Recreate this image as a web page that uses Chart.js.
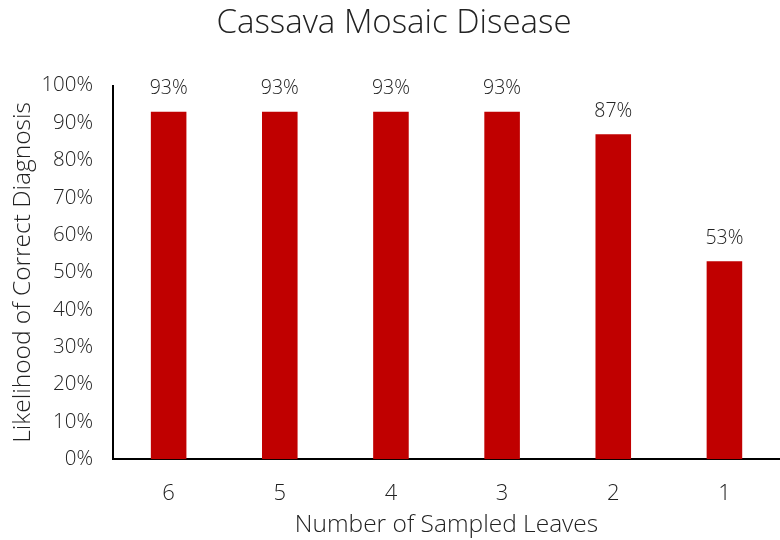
<!DOCTYPE html>
<html>
<head>
<meta charset="utf-8">
<script src="https://cdn.jsdelivr.net/npm/chart.js@4"></script>
<style>
    html, body { margin: 0; padding: 0; background: #fff; }
    #wrap { width: 780px; height: 540px; }
</style>
</head>
<body>
<div id="wrap"><canvas id="chart"></canvas></div>
<script>
// Chart data
const leaves = ['6', '5', '4', '3', '2', '1'];
const likelihood = [93, 93, 93, 93, 87, 53];
const yTicks = [0, 10, 20, 30, 40, 50, 60, 70, 80, 90, 100];

const FONT = "'Open Sans', 'Lato', sans-serif";

// Draw percentage labels above each bar
const barLabels = {
    id: 'barLabels',
    afterDatasetsDraw(chart) {
        const ctx = chart.ctx;
        const meta = chart.getDatasetMeta(0);
        ctx.save();
        ctx.font = `300 19.5px ${FONT}`;
        ctx.fillStyle = '#222';
        ctx.textAlign = 'center';
        ctx.textBaseline = 'middle';
        meta.data.forEach((bar, i) => {
            ctx.fillText(`${likelihood[i]}%`, bar.x, bar.y - 23);
        });
        ctx.restore();
    }
};

new Chart(document.getElementById('chart'), {
    type: 'bar',
    data: {
        labels: leaves,
        datasets: [{
            data: likelihood,
            backgroundColor: '#C00000',
            borderWidth: 0,
            barPercentage: 0.64,
            categoryPercentage: 0.5
        }]
    },
    options: {
        responsive: true,
        maintainAspectRatio: false,
        animation: false,
        layout: { padding: { top: 0, right: 0, bottom: 0, left: 8 } },
        plugins: {
            legend: { display: false },
            tooltip: { enabled: false },
            title: {
                display: true,
                text: 'Cassava Mosaic Disease',
                color: '#222',
                font: { family: FONT, size: 33, weight: '300' },
                padding: { top: 4, bottom: 42 }
            }
        },
        scales: {
            x: {
                grid: { display: false, drawTicks: false },
                border: { display: true, color: '#000', width: 2 },
                ticks: {
                    color: '#222',
                    font: { family: FONT, size: 22, weight: '300' },
                    padding: 21
                },
                title: {
                    display: true,
                    text: 'Number of Sampled Leaves',
                    color: '#222',
                    font: { family: FONT, size: 24.5, weight: '300' },
                    padding: { top: -17, bottom: 0 }
                }
            },
            y: {
                min: 0,
                max: 100,
                afterBuildTicks(axis) {
                    axis.ticks = yTicks.map(v => ({ value: v }));
                },
                grid: { display: false, drawTicks: false },
                border: { display: true, color: '#000', width: 2 },
                ticks: {
                    color: '#222',
                    font: { family: FONT, size: 20.5, weight: '300' },
                    padding: 20,
                    callback: v => `${v}%`
                },
                title: {
                    display: true,
                    text: 'Likelihood of Correct Diagnosis',
                    color: '#222',
                    font: { family: FONT, size: 24.5, weight: '300' },
                    padding: { top: 0, bottom: -16 }
                }
            }
        }
    },
    plugins: [barLabels]
});
</script>
</body>
</html>
